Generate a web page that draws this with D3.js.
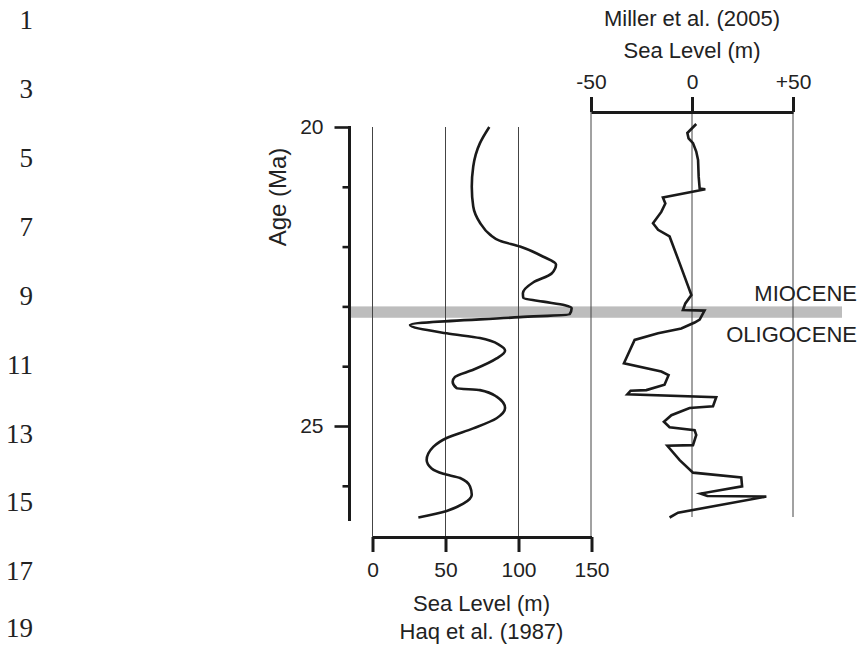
<!DOCTYPE html>
<html>
<head>
<meta charset="utf-8">
<script src="https://cdn.jsdelivr.net/npm/d3@7"></script>
<style>
  html, body { margin: 0; padding: 0; background: #fff; }
  svg { display: block; }
  text { font-family: "Liberation Sans", Arial, Helvetica, sans-serif; fill: #222; }
</style>
</head>
<body>
<svg id="chart" width="859" height="647"></svg>
<script>
// ---------- DATA ----------
// Haq et al. (1987) sea level (m) vs age (Ma)
const haqAge   = [20.0, 20.27, 20.66, 21.0, 21.33, 21.6, 21.8, 21.9, 22.0, 22.17, 22.3, 22.45, 22.6, 22.78, 22.86, 22.92, 22.98, 23.03, 23.13, 23.18, 23.31, 23.45, 23.53, 23.65, 23.74, 23.87, 24.06, 24.18, 24.26, 24.37, 24.4, 24.51, 24.7, 24.87, 25.04, 25.2, 25.35, 25.57, 25.71, 25.8, 25.87, 26.01, 26.15, 26.3, 26.42, 26.53];
const haqLevel = [80, 73.6, 69, 68, 69, 73.6, 80.5, 87, 101, 117, 125.7, 122.7, 110, 103, 103.3, 117, 131.8, 136.4, 135, 101, 25.7, 50.8, 73.6, 87.3, 90.8, 85, 69, 56.5, 54.9, 57.7, 73.6, 85, 90.8, 85, 69, 50.8, 41.6, 37.1, 40.5, 48.5, 60, 66.8, 68, 62.2, 50.8, 31.4];

// Miller et al. (2005) sea level (m) vs age (Ma)
const millerAge   = [19.95, 20.1, 20.19, 20.27, 20.41, 20.55, 20.83, 21.03, 21.04, 21.18, 21.28, 21.42, 21.61, 21.72, 21.83, 22.28, 22.81, 22.95, 23.06, 23.07, 23.22, 23.27, 23.37, 23.45, 23.56, 23.95, 24.09, 24.15, 24.31, 24.4, 24.41, 24.47, 24.52, 24.67, 24.7, 24.82, 24.93, 25.02, 25.07, 25.15, 25.32, 25.33, 25.57, 25.78, 25.86, 26.01, 26.13, 26.17, 26.18, 26.45, 26.53];
const millerLevel = [2.1, -2.3, -1.7, 0.5, 2.1, 3, 3.3, 3.8, 6.6, -14.4, -13.2, -15.2, -19.3, -16.8, -11.1, -6.1, -0.3, -3.3, -4.5, 6.2, 3.8, 1.3, -5.3, -16.8, -28.4, -33.7, -15.2, -11.6, -13.6, -22.6, -30.4, -32, 12, 10.4, -1.2, -10.2, -13.9, -11.1, 1.3, 2.1, 0.5, -12.2, -6.1, 0.5, 24.4, 24.8, 4.3, 7.6, 36.8, -6.9, -11.1];

// Axes / ticks
const ageMajorTicks = [20, 25];
const ageMinorTicks = [21, 22, 23, 24, 26];
const haqTicks = [0, 50, 100, 150];
const millerTicks = [-50, 0, 50];
const boundaryBand = [23.0, 23.19];   // Oligocene / Miocene boundary band (Ma)
const epochLabels = ["MIOCENE", "OLIGOCENE"];
const lineNumbers = [1, 3, 5, 7, 9, 11, 13, 15, 17, 19];

// ---------- SCALES ----------
const svg = d3.select("#chart");
const y = d3.scaleLinear().domain([20, 25]).range([127, 426]);
const xHaq = d3.scaleLinear().domain([0, 150]).range([372.5, 591.5]);
const xMil = d3.scaleLinear().domain([-50, 50]).range([591, 793]);
const axisX = 349.5;
const bottomY = 537;
const topY = 112;
const ink = "#1a1a1a";

// ---------- manuscript line numbers ----------
svg.append("g").selectAll("text").data(lineNumbers).join("text")
  .attr("x", 33).attr("y", (d, i) => Math.min(20 + i * 68.9, 628))
  .attr("dy", "0.34em")
  .attr("text-anchor", "end")
  .style("font-family", "'Liberation Serif', 'Times New Roman', serif")
  .style("font-size", "27px")
  .style("fill", "#222")
  .text(d => d);

// ---------- boundary band ----------
svg.append("rect")
  .attr("x", axisX).attr("width", 842 - axisX)
  .attr("y", y(boundaryBand[0])).attr("height", y(boundaryBand[1]) - y(boundaryBand[0]))
  .attr("fill", "#bdbdbd");

// ---------- grid lines ----------
const grid = svg.append("g").attr("stroke", "#444").attr("stroke-width", 1);
grid.selectAll("line.haq").data([0, 50, 100]).join("line")
  .attr("x1", d => xHaq(d)).attr("x2", d => xHaq(d))
  .attr("y1", y(20)).attr("y2", bottomY);
grid.append("line")
  .attr("x1", xMil(-50)).attr("x2", xMil(-50)).attr("y1", topY).attr("y2", bottomY);
grid.selectAll("line.mil").data([0, 50]).join("line")
  .attr("x1", d => xMil(d)).attr("x2", d => xMil(d))
  .attr("y1", topY).attr("y2", 517);

// ---------- curves ----------
const haqData = haqAge.map((a, i) => [haqLevel[i], a]);
const milData = millerAge.map((a, i) => [millerLevel[i], a]);

svg.append("path")
  .datum(haqData)
  .attr("fill", "none").attr("stroke", ink).attr("stroke-width", 2.6)
  .attr("stroke-linejoin", "round")
  .attr("d", d3.line().x(d => xHaq(d[0])).y(d => y(d[1])).curve(d3.curveMonotoneY));

svg.append("path")
  .datum(milData)
  .attr("fill", "none").attr("stroke", ink).attr("stroke-width", 2.6)
  .attr("stroke-linejoin", "miter")
  .attr("d", d3.line().x(d => xMil(d[0])).y(d => y(d[1])));

// ---------- left (age) axis ----------
const leftMajor = svg.append("g").attr("transform", `translate(${axisX},0)`)
  .call(d3.axisLeft(y).tickValues(ageMajorTicks).tickSize(15).tickPadding(11).tickSizeOuter(0).tickFormat(d3.format("d")));
const leftMinor = svg.append("g").attr("transform", `translate(${axisX},0)`)
  .call(d3.axisLeft(y).tickValues(ageMinorTicks).tickSize(7).tickFormat("").tickSizeOuter(0));
[leftMajor, leftMinor].forEach(g => {
  g.select(".domain").remove();
  g.selectAll(".tick line").attr("stroke", ink).attr("stroke-width", 2.6);
  g.selectAll(".tick text").style("font-size", "21px").style("font-family", "'Liberation Sans', Arial, sans-serif").attr("fill", "#222");
});
svg.append("line")
  .attr("x1", axisX).attr("x2", axisX).attr("y1", y(20) - 1).attr("y2", 521)
  .attr("stroke", ink).attr("stroke-width", 3);

svg.append("text")
  .attr("transform", `translate(286,197) rotate(-90)`)
  .attr("text-anchor", "middle")
  .style("font-size", "24px")
  .text("Age (Ma)");

// ---------- bottom (Haq) axis ----------
const bAxis = svg.append("g").attr("transform", `translate(0,${bottomY})`)
  .call(d3.axisBottom(xHaq).tickValues(haqTicks).tickSize(15).tickPadding(10).tickSizeOuter(0));
bAxis.select(".domain").attr("stroke", ink).attr("stroke-width", 3);
bAxis.selectAll(".tick line").attr("stroke", ink).attr("stroke-width", 3);
bAxis.selectAll(".tick text").style("font-size", "21px").style("font-family", "'Liberation Sans', Arial, sans-serif").attr("fill", "#222");

svg.append("text").attr("x", 481.5).attr("y", 611).attr("text-anchor", "middle")
  .style("font-size", "22px").text("Sea Level (m)");
svg.append("text").attr("x", 481.5).attr("y", 639).attr("text-anchor", "middle")
  .style("font-size", "22px").text("Haq et al. (1987)");

// ---------- top (Miller) axis ----------
const tAxis = svg.append("g").attr("transform", `translate(0,${topY})`)
  .call(d3.axisTop(xMil).tickValues(millerTicks).tickSize(15).tickPadding(8).tickSizeOuter(0)
    .tickFormat(d => d > 0 ? "+" + d : (d < 0 ? "-" + Math.abs(d) : "0")));
tAxis.select(".domain").attr("stroke", ink).attr("stroke-width", 3);
tAxis.selectAll(".tick line").attr("stroke", ink).attr("stroke-width", 3);
tAxis.selectAll(".tick text").style("font-size", "21px").style("font-family", "'Liberation Sans', Arial, sans-serif").attr("fill", "#222");

svg.append("text").attr("x", 692).attr("y", 58).attr("text-anchor", "middle")
  .style("font-size", "22px").text("Sea Level (m)");
svg.append("text").attr("x", 692).attr("y", 26).attr("text-anchor", "middle")
  .style("font-size", "22px").text("Miller et al. (2005)");

// ---------- epoch labels ----------
svg.append("text").attr("x", 857).attr("y", 301).attr("text-anchor", "end")
  .style("font-size", "22px").text(epochLabels[0]);
svg.append("text").attr("x", 857).attr("y", 342).attr("text-anchor", "end")
  .style("font-size", "22px").text(epochLabels[1]);
</script>
</body>
</html>
